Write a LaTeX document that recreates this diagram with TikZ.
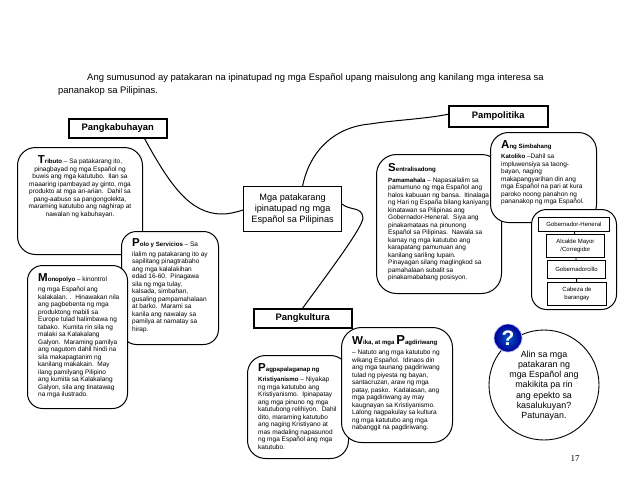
\documentclass[tikz,border=0pt]{standalone}
\usepackage{fontspec}
\setmainfont{Liberation Sans}
\newfontfamily\pageserif{Liberation Serif}
\newcommand{\Ini}[1]{\smash{\fontsize{11.5}{7.5}\selectfont\textbf{#1}}}
\newcommand{\Bo}[1]{\textbf{\fontsize{6.1}{7.5}\selectfont #1}}
\tikzset{
  card/.style={draw=black,fill=white,line width=1pt,rounded corners=#1,anchor=north west,inner sep=0pt},
  card/.default=16pt,
  head/.style={draw=black,fill=white,line width=1.5pt,anchor=north west,inner sep=0pt,font=\fontsize{9.4}{11}\selectfont\bfseries},
  small/.style={anchor=north west,inner sep=0pt,align=left,font=\fontsize{6.5}{7.5}\selectfont},
  orgbox/.style={draw=black,fill=white,line width=0.9pt,anchor=north west,inner sep=0pt,align=center,font=\fontsize{6}{8}\selectfont},
  link/.style={draw=black,line width=1pt},
}
\begin{document}
\begin{tikzpicture}[x=1pt,y=-1pt]
\useasboundingbox[fill=white] (0,0) rectangle (638,493);
% intro
\node[anchor=base west,inner sep=0pt,font=\fontsize{9.45}{11}\selectfont] (introa) at (87,80) {Ang sumusunod ay patakaran na ipinatupad ng mga Español upang maisulong ang kanilang mga interesa sa};
\node[anchor=base west,inner sep=0pt,font=\fontsize{9.45}{11}\selectfont] (introb) at (58,93) {pananakop sa Pilipinas.};
% main nodes
\node[draw=black,fill=white,line width=1.2pt,anchor=north west,inner sep=0pt,minimum width=98pt,minimum height=45pt,align=center,font=\fontsize{9.2}{10.6}\selectfont] (hub) at (243,186) {Mga patakarang\\ipinatupad ng mga\\Español sa Pilipinas};
\node[head,minimum width=98pt,minimum height=19pt] (econ) at (68,118) {Pangkabuhayan};
\node[head,minimum width=99pt,minimum height=21pt] (pol) at (448,105) {Pampolitika};
\node[head,minimum width=98pt,minimum height=19pt] (cult) at (253,308) {Pangkultura};
% connectors
\draw[link] ([xshift=-23pt]econ.south east) .. controls (170,185) and (190,214) .. (222,214) .. controls (230,214) and (236,212) .. ([yshift=-1pt]hub.west);
\draw[link] ([xshift=10pt]hub.north) .. controls (310,150) and (335,127) .. (370,124) .. controls (395,120) and (425,119) .. ([yshift=2pt]pol.west);
\draw[link] ([yshift=5pt]hub.east) .. controls (350,211) and (362,206) .. (363,218) .. controls (362,228) and (332,268) .. ([xshift=0pt]cult.north);
% Economy cards
\node[card=18pt,minimum width=125pt,minimum height=107pt] (tri) at (17,147) {};
\node[small,align=center,anchor=north] (tritext) at (80,159) {\Ini{T}\Bo{ributo} – Sa patakarang ito,\\pinagbayad ng mga Español ng\\buwis ang mga katutubo.\ \ Ilan sa\\maaaring ipambayad ay ginto, mga\\produkto at mga ari-arian.\ \ Dahil sa\\pang-aabuso sa pangongolekta,\\maraming katutubo ang naghirap at\\nawalan ng kabuhayan.};
\node[card=15pt,minimum width=97pt,minimum height=113pt] (polo) at (121,231) {};
\node[small] (polotext) at (132,242) {\Ini{P}\Bo{olo y Servicios} – Sa\\[2pt]ilalim ng patakarang ito ay\\sapilitang pinagtrabaho\\ang mga kalalakihan\\edad 16-60.\ \ Pinagawa\\sila ng mga tulay,\\kalsada, simbahan,\\gusaling pampamahalaan\\at barko.\ \ Marami sa\\kanila ang nawalay sa\\pamilya at namatay sa\\hirap.};
\node[card=15pt,minimum width=100pt,minimum height=143pt] (mono) at (27,265) {};
\node[small] (monotext) at (38,277) {\Ini{M}\Bo{onopolyo} – kinontrol\\[2.5pt]ng mga Español ang\\kalakalan. .\ \ Hinawakan nila\\ang pagbebenta ng mga\\produktong mabili sa\\Europe tulad halimbawa ng\\tabako.\ \ Kumita rin sila ng\\malaki sa Kalakalang\\Galyon.\ \ Maraming pamilya\\ang nagutom dahil hindi na\\sila makapagtanim ng\\kanilang makakain.\ \ May\\ilang pamilyang Pilipino\\ang kumita sa Kalakalang\\Galyon, sila ang tinatawag\\na mga ilustrado.};
% Politics cards
\node[card=20pt,minimum width=125pt,minimum height=139pt] (sen) at (376,154) {};
\node[small] (sentext) at (388,167) {\Ini{S}\Bo{entralisadong}\\[3pt]\Bo{Pamamahala} – Napasailalim sa\\pamumuno ng mga Español ang\\halos kabuuan ng bansa.\ \ Itinalaga\\ng Hari ng España bilang kaniyang\\kinatawan sa Pilipinas ang\\Gobernador-Heneral.\ \ Siya ang\\pinakamataas na pinunong\\Español sa Pilipinas.\ \ Nawala sa\\kamay ng mga katutubo ang\\karapatang pamunuan ang\\kanilang sariling lupain.\\Pinayagan silang maglingkod sa\\pamahalaan subalit sa\\pinakamababang posisyon.};
\node[card=18pt,minimum width=106pt,minimum height=90pt] (sim) at (490,132) {};
\node[small] (simtext) at (501,144) {\Ini{A}\Bo{ng Simbahang}\\[2.5pt]\Bo{Katoliko} –Dahil sa\\impluwensiya sa taong-\\bayan, naging\\makapangyarihan din ang\\mga Español na pari at kura\\paroko noong panahon ng\\pananakop ng mga Español.};
\node[card=15pt,minimum width=85pt,minimum height=100pt] (org) at (531,209) {};
\node[orgbox,minimum width=71pt,minimum height=14pt] (gh) at (538,217) {Gobernador-Heneral};
\node[orgbox,minimum width=58pt,minimum height=23pt,font=\fontsize{6}{8.4}\selectfont] (am) at (546,234) {Alcalde Mayor\\/Corregidor};
\node[orgbox,minimum width=58pt,minimum height=18pt] (gc) at (547,260) {Gobernadorcillo};
\node[orgbox,minimum width=59pt,minimum height=23pt,font=\fontsize{6}{8.4}\selectfont] (cb) at (547,282) {Cabeza de\\barangay};
\draw[line width=0.9pt] (gh) -- (am);
\draw[line width=0.9pt] (am) -- (gc);
\draw[line width=0.9pt] (gc) -- (cb);
% Culture cards
\node[card=18pt,minimum width=101pt,minimum height=103pt] (kri) at (247,355) {};
\node[small] (kritext) at (258,367) {\Ini{P}\Bo{agpapalaganap ng}\\[2.5pt]\Bo{Kristiyanismo} – Niyakap\\ng mga katutubo ang\\Kristiyanismo.\ \ Ipinapatay\\ang mga pinuno ng mga\\katutubong relihiyon.\ \ Dahil\\dito, maraming katutubo\\ang naging Kristiyano at\\mas madaling napasunod\\ng mga Español ang mga\\katutubo.};
\node[card=20pt,minimum width=111pt,minimum height=115pt] (wik) at (341,327) {};
\node[small] (wiktext) at (352,340) {\Ini{W}\Bo{ika, at mga} {\fontsize{13}{7.5}\selectfont\smash{\textbf{P}}}\Bo{agdiriwang}\\[2.5pt]– Natuto ang mga katutubo ng\\wikang Español.\ \ Idinaos din\\ang mga taunang pagdiriwang\\tulad ng piyesta ng bayan,\\santacruzan, araw ng mga\\patay, pasko.\ \ Kadalasan, ang\\mga pagdiriwang ay may\\kaugnayan sa Kristiyanismo.\\Lalong nagpakulay sa kultura\\ng mga katutubo ang mga\\nabanggit na pagdiriwang.};
% Question
\node[draw=black,fill=white,line width=0.9pt,circle,minimum size=110pt,inner sep=0pt] (ask) at (544,385) {};
\node[inner sep=0pt,align=center,font=\fontsize{8.9}{10.2}\selectfont] (asktext) at (544,385.5) {Alin sa mga\\patakaran ng\\mga Español ang\\makikita pa rin\\ang epekto sa\\kasalukuyan?\\Patunayan.};
\node[circle,minimum size=28pt,inner sep=0pt,draw=blue!25!white,line width=0.7pt,inner color=blue!55!cyan!75!black,outer color=blue!60!black,text=white,font=\fontsize{21}{21}\selectfont\bfseries] (qm) at (508,338) {?};
\node[anchor=base,inner sep=0pt,font=\pageserif\fontsize{9}{11}\selectfont] (pg) at (575,461) {17};
\end{tikzpicture}
\end{document}
